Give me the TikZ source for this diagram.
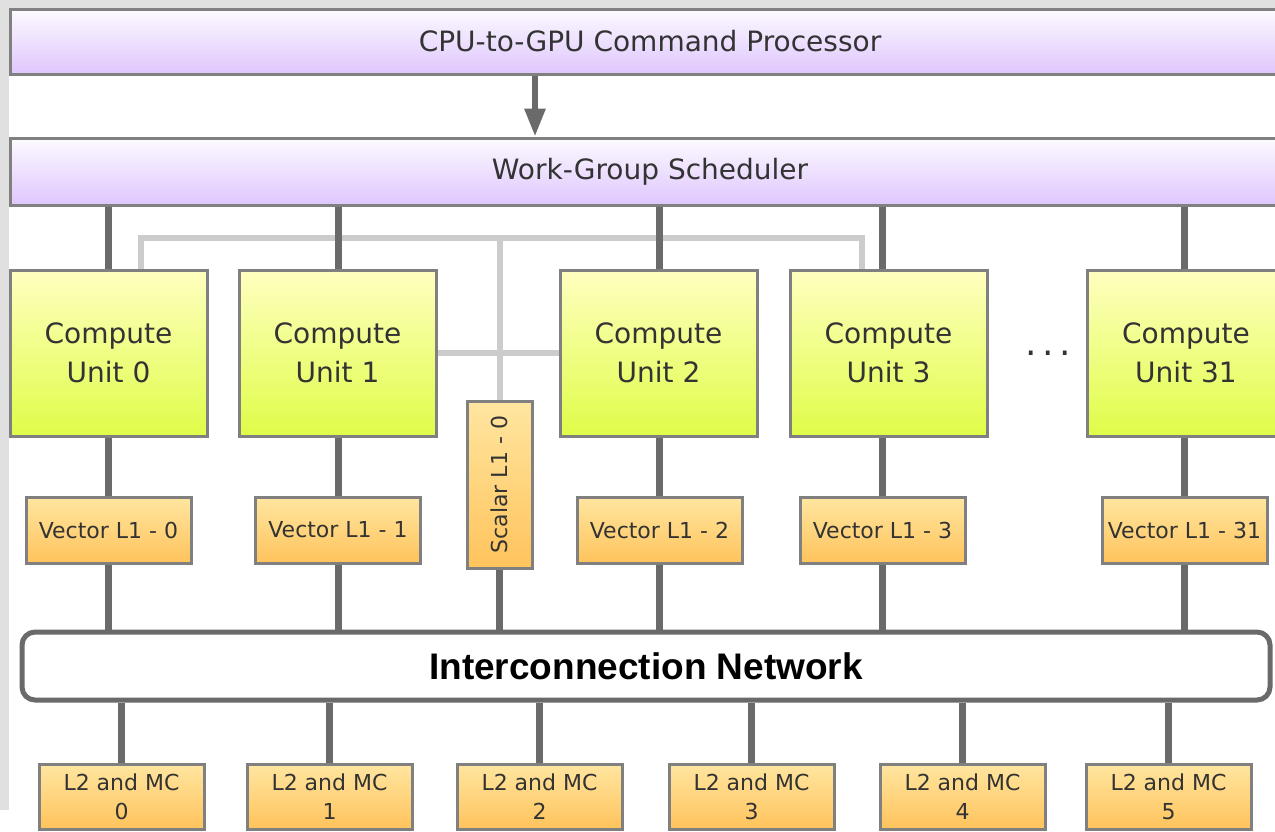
\documentclass[tikz,border=0pt]{standalone}
\usepackage{fontspec}
\setmainfont{DejaVu Sans}
\newfontfamily\netfont{Liberation Sans}
\usetikzlibrary{arrows.meta,backgrounds}
\definecolor{stripgrey}{HTML}{E0E0E0}
\definecolor{boxborder}{HTML}{808080}
\definecolor{darkline}{HTML}{6A6A6A}
\definecolor{lightline}{HTML}{CCCCCC}
\definecolor{lavtop}{HTML}{FCFAFF}
\definecolor{lavbot}{HTML}{DFC6FD}
\definecolor{cutop}{HTML}{FFFFC0}
\definecolor{cubot}{HTML}{E0FC48}
\definecolor{ortop}{HTML}{FFE6A0}
\definecolor{orbot}{HTML}{FFC35C}
\definecolor{txt}{HTML}{333333}
\tikzset{
  lavbox/.style={draw=boxborder, line width=3pt, top color=lavtop, bottom color=lavbot,
    minimum width=1280pt, minimum height=65pt, inner sep=0pt, text=txt,
    font=\fontsize{28}{34}\selectfont},
  cubox/.style={draw=boxborder, line width=3pt, top color=cutop, bottom color=cubot,
    minimum width=197pt, minimum height=166pt, inner sep=0pt, text=txt, align=center,
    font=\fontsize{28}{39}\selectfont},
  vbox/.style={draw=boxborder, line width=3pt, top color=ortop, bottom color=orbot,
    minimum width=165pt, minimum height=66pt, inner sep=0pt, text=txt,
    font=\fontsize{22}{29}\selectfont},
  l2box/.style={vbox, minimum height=65pt, align=center},
  sbox/.style={draw=boxborder, line width=3pt, top color=ortop, bottom color=orbot,
    minimum width=167pt, minimum height=65pt, inner sep=0pt, text=txt, rotate=90,
    font=\fontsize{22}{29}\selectfont},
  netbox/.style={draw=darkline, line width=5pt, fill=white, rounded corners=13pt,
    minimum width=1248pt, minimum height=68pt, inner sep=0pt, text=black,
    font=\netfont\bfseries\fontsize{37}{42}\selectfont},
  dk/.style={draw=darkline, line width=7pt},
  lt/.style={draw=lightline, line width=6pt},
}
\begin{document}
\begin{tikzpicture}[x=1pt,y=1pt]
\clip (0,0) rectangle (1275,-831);

\node[lavbox] (cp) at (650,-41.5) {CPU-to-GPU Command Processor};
\node[lavbox, minimum height=67pt] (sched) at (650,-171.5) {Work-Group Scheduler};

\node[cubox] (cu0) at (108.5,-353) {Compute\\Unit 0};
\node[cubox] (cu1) at (337.5,-353) {Compute\\Unit 1};
\node[cubox] (cu2) at (658.5,-353) {Compute\\Unit 2};
\node[cubox] (cu3) at (888.5,-353) {Compute\\Unit 3};
\node[cubox] (cu31) at (1186,-353) {Compute\\Unit 31};
\node[text=txt, anchor=base, inner sep=0pt, font=\fontsize{36}{40}\selectfont] (dots) at (1048,-355) {.\hspace{5.5pt}.\hspace{5.5pt}.};

\node[sbox] (sl1) at (499.5,-484.5) {Scalar L1 - 0};

\node[vbox] (v0) at (108.5,-530) {Vector L1 - 0};
\node[vbox] (v1) at (338,-530) {Vector L1 - 1};
\node[vbox] (v2) at (659.5,-530) {Vector L1 - 2};
\node[vbox] (v3) at (882.5,-530) {Vector L1 - 3};
\node[vbox] (v31) at (1184.5,-530) {Vector L1 - 31};

\node[netbox] (net) at (646,-666) {Interconnection Network};

\node[l2box] (m0) at (121.5,-796.5) {L2 and MC\\0};
\node[l2box] (m1) at (329.5,-796.5) {L2 and MC\\1};
\node[l2box] (m2) at (539.5,-796.5) {L2 and MC\\2};
\node[l2box] (m3) at (751.5,-796.5) {L2 and MC\\3};
\node[l2box] (m4) at (962.5,-796.5) {L2 and MC\\4};
\node[l2box] (m5) at (1168.5,-796.5) {L2 and MC\\5};

\coordinate (bus) at (500,-238);

\begin{scope}[on background layer]
  \fill[stripgrey] (0,0) rectangle (1275,-9);
  \fill[stripgrey] (0,0) rectangle (9,-810);
  % light grey scalar-cache links
  \draw[lt] ([xshift=32.5pt]cu0.north) -- ([xshift=32.5pt]cu0.north |- bus) -| ([xshift=-26.5pt]cu3.north);
  \draw[lt] (sl1.east) -- (sl1.east |- bus);
  \draw[lt] (cu1.east) -- (cu2.west);
  % dark links scheduler -> CU -> vector L1 -> network
  \foreach \v in {v0,v1,v2,v3,v31}{
    \draw[dk] (\v.north |- sched.south) -- (\v.north);
    \draw[dk] (\v.south) -- (\v.south |- net.north);
  }
  \draw[dk] (sl1.west) -- (sl1.west |- net.north);
  \foreach \m in {m0,m1,m2,m3,m4,m5}{
    \draw[dk] (\m.north |- net.south) -- (\m.north);
  }
\end{scope}
\draw[draw=darkline, line width=6pt, -{Triangle[width=20pt,length=28pt]}]
  ([xshift=-115pt]cp.south) -- ([xshift=-115pt]sched.north);
\end{tikzpicture}
\end{document}
